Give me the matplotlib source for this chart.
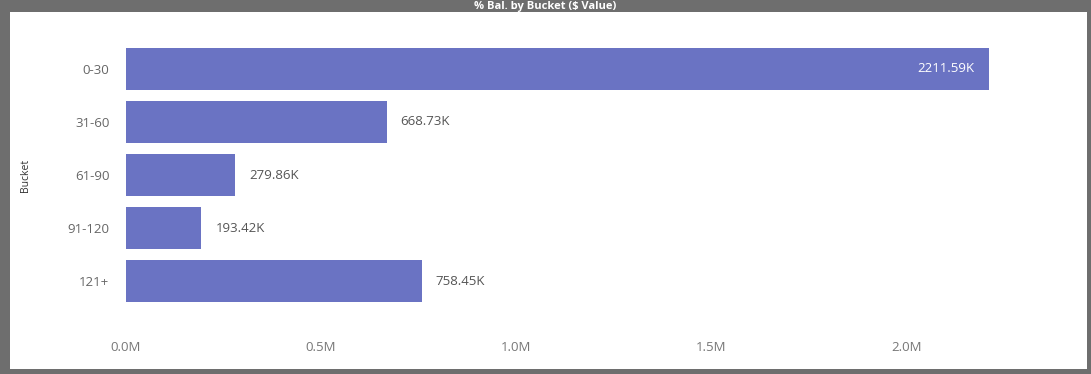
import matplotlib.pyplot as plt
from matplotlib.patches import Rectangle

buckets = ['0-30', '31-60', '61-90', '91-120', '121+']
values = [2211.59, 668.73, 279.86, 193.42, 758.45]  # in K
labels = ['2211.59K', '668.73K', '279.86K', '193.42K', '758.45K']
xticks = [0.0, 0.5, 1.0, 1.5, 2.0]
xticklabels = ['0.0M', '0.5M', '1.0M', '1.5M', '2.0M']

plt.rcParams['font.family'] = ['Open Sans', 'DejaVu Sans']

fig = plt.figure(figsize=(10.91, 3.74), dpi=100, facecolor='#6e6e6e')
# white visual panel, behind the axes
fig.add_artist(Rectangle((10 / 1091, 5 / 374), 1077 / 1091, 357 / 374,
                         transform=fig.transFigure, facecolor='white',
                         edgecolor='none', zorder=-5))
fig.text(0.5, 1 - 6 / 374, '% Bal. by Bucket ($ Value)', ha='center', va='center',
         color='white', fontsize=8, fontweight='bold')

ax = fig.add_axes([126 / 1091, 66 / 374, 949 / 1091, 266 / 374])
ax.set_facecolor('none')

vals_m = [v / 1000 for v in values]
ypos = list(range(len(buckets)))
ax.barh(ypos, vals_m, height=0.79, color='#6a73c3')
ax.set_ylim(len(buckets) - 0.5, -0.5)
ax.set_xlim(0, 2.433)

for y, v, lab in zip(ypos, vals_m, labels):
    if v > 1.5:
        ax.annotate(lab, (v, y), xytext=(-10, 0), textcoords='offset points',
                    ha='right', va='center', color='white', fontsize=9.5)
    else:
        ax.annotate(lab, (v, y), xytext=(10, 0), textcoords='offset points',
                    ha='left', va='center', color='#555555', fontsize=9.5)

ax.set_yticks(ypos)
ax.set_yticklabels(buckets, fontsize=9.5, color='#666666')
ax.set_xticks(xticks)
ax.set_xticklabels(xticklabels, fontsize=9.5, color='#777777')
ax.tick_params(axis='both', length=0)
ax.tick_params(axis='y', pad=12)
ax.tick_params(axis='x', pad=24)
for s in ax.spines.values():
    s.set_visible(False)

ax.set_ylabel('Bucket', fontsize=7.5, color='#333333', labelpad=26)

fig.savefig('out.png', dpi=100, facecolor=fig.get_facecolor())
